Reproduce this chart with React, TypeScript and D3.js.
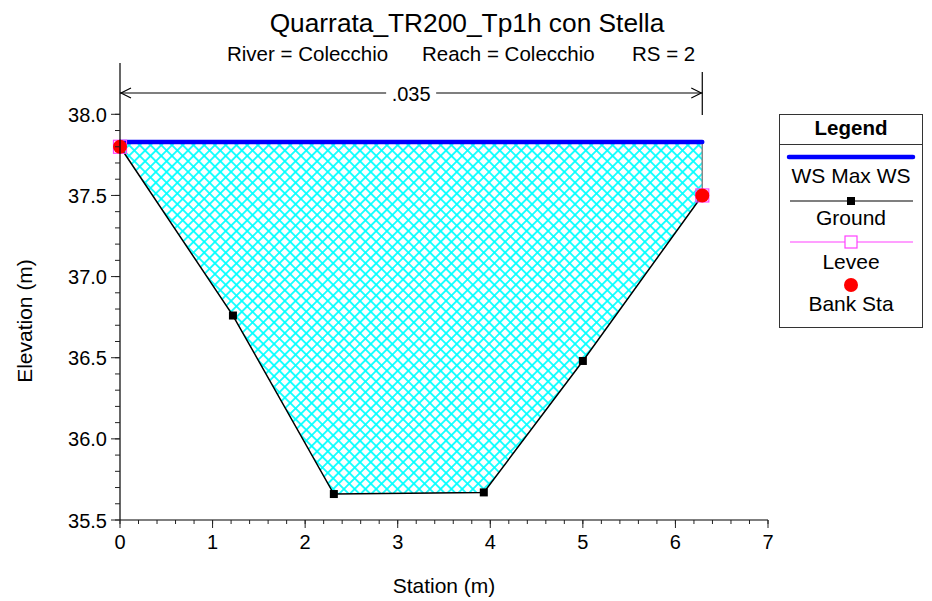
import { useEffect } from "react";
import * as d3 from "d3";

// cross section data
const stations = [0, 1.22, 2.31, 3.93, 5.0, 6.29];
const elevations = [37.8, 36.76, 35.66, 35.67, 36.48, 37.5];
const wsElevation = 37.83;
const bankStations = [0, 6.29];
const bankElevations = [37.8, 37.5];
const manningLabels = [".035"];
const manningStart = [0];
const manningEnd = [6.29];
const xTicks = [0, 1, 2, 3, 4, 5, 6, 7];
const yTicks = [35.5, 36.0, 36.5, 37.0, 37.5, 38.0];

const W = 932;
const H = 601;
const FONT = "Liberation Sans, Arial, Helvetica, sans-serif";

export default function App() {
  useEffect(() => {
    document.body.style.margin = "0";
  }, []);

  const x = d3.scaleLinear().domain([0, 7]).range([120, 768]);
  const y = d3.scaleLinear().domain([35.5, 38.0]).range([520, 114.3]);

  const ground = stations.map((s, i) => [s, elevations[i]] as [number, number]);
  const lastSta = stations[stations.length - 1];

  // area between water surface and ground
  const poly: [number, number][] = [
    [stations[0], wsElevation],
    [lastSta, wsElevation],
    ...ground.slice().reverse(),
  ];
  const polyPath = d3.line<[number, number]>()
    .x((d) => x(d[0]))
    .y((d) => y(d[1]))(poly) + "Z";
  const groundPath = d3.line<[number, number]>()
    .x((d) => x(d[0]))
    .y((d) => y(d[1]))(ground);

  const xMinor = d3.range(0, 7.001, 0.2);
  const yMinor = d3.range(35.5, 38.001, 0.1);

  const dimY = 93;
  const hp = 7.6; // hatch period

  return (
    <svg width={W} height={H} style={{ position: "absolute", left: 0, top: 0, background: "#fff" }} fontFamily={FONT}>
      <defs>
        <pattern id="hatch" width={hp} height={hp} patternUnits="userSpaceOnUse" patternTransform="rotate(45)">
          <rect width={hp} height={hp} fill="#fff" />
          <line x1={0} y1={hp / 2} x2={hp} y2={hp / 2} stroke="#00ffff" strokeWidth={1.7} />
          <line x1={hp / 2} y1={0} x2={hp / 2} y2={hp} stroke="#00ffff" strokeWidth={1.7} />
        </pattern>
      </defs>

      {/* titles */}
      <text x={467} y={32} fontSize={26.3} textAnchor="middle">Quarrata_TR200_Tp1h con Stella</text>
      <text x={227} y={61} fontSize={20.5}>River = Colecchio</text>
      <text x={422} y={61} fontSize={20.5}>Reach = Colecchio</text>
      <text x={632} y={61} fontSize={20.5}>RS = 2</text>

      {/* fill */}
      <path d={polyPath} fill="url(#hatch)" stroke="none" />
      <line x1={x(lastSta)} x2={x(lastSta)} y1={y(wsElevation)} y2={y(bankElevations[1])} stroke="#888" strokeWidth={1.5} />

      {/* ground */}
      <path d={groundPath!} fill="none" stroke="#000" strokeWidth={1.5} />
      {ground.map((d, i) => (
        <rect key={i} x={x(d[0]) - 4} y={y(d[1]) - 4} width={8} height={8} fill="#000" />
      ))}

      {/* water surface */}
      <line x1={x(stations[0])} x2={x(lastSta)} y1={y(wsElevation)} y2={y(wsElevation)} stroke="#0000ff" strokeWidth={4.5} strokeLinecap="round" />

      {/* levees + bank stations */}
      {bankStations.map((s, i) => (
        <g key={i}>
          <rect x={x(s) - 6.5} y={y(bankElevations[i]) - 6.5} width={13} height={13} fill="none" stroke="#ff40ff" strokeWidth={1.2} />
          <circle cx={x(s)} cy={y(bankElevations[i])} r={7} fill="#ff0000" />
        </g>
      ))}

      {/* manning n annotation */}
      {manningLabels.map((lab, i) => {
        const x0 = x(manningStart[i]);
        const x1 = x(manningEnd[i]);
        const cx = (x0 + x1) / 2;
        return (
          <g key={i} stroke="#000" strokeWidth={1.2} fill="none">
            <line x1={x1} x2={x1} y1={72} y2={115} />
            <line x1={x0} x2={cx - 25} y1={dimY} y2={dimY} />
            <line x1={cx + 25} x2={x1} y1={dimY} y2={dimY} />
            <polyline points={`${x0 + 11},${dimY - 5} ${x0 + 1},${dimY} ${x0 + 11},${dimY + 5}`} />
            <polyline points={`${x1 - 11},${dimY - 5} ${x1 - 1},${dimY} ${x1 - 11},${dimY + 5}`} />
            <text x={cx} y={dimY + 8} fontSize={20} textAnchor="middle" fill="#000" stroke="none">{lab}</text>
          </g>
        );
      })}

      {/* axes */}
      <line x1={120} x2={120} y1={63} y2={520} stroke="#000" strokeWidth={1.2} />
      <line x1={120} x2={768} y1={520} y2={520} stroke="#000" strokeWidth={1.2} />
      {xMinor.map((v, i) => (
        <line key={i} x1={x(v)} x2={x(v)} y1={520} y2={524} stroke="#222" />
      ))}
      {xTicks.map((v) => (
        <g key={v}>
          <line x1={x(v)} x2={x(v)} y1={520} y2={528} stroke="#222" />
          <text x={x(v)} y={549} fontSize={20} textAnchor="middle">{v}</text>
        </g>
      ))}
      {yMinor.map((v, i) => (
        <line key={i} x1={115} x2={120} y1={y(v)} y2={y(v)} stroke="#222" />
      ))}
      {yTicks.map((v) => (
        <g key={v}>
          <line x1={111} x2={120} y1={y(v)} y2={y(v)} stroke="#222" />
          <text x={107} y={y(v) + 7.5} fontSize={20} textAnchor="end">{v.toFixed(1)}</text>
        </g>
      ))}
      <text x={444} y={593} fontSize={21} textAnchor="middle">Station (m)</text>
      <text transform="translate(32,321) rotate(-90)" fontSize={21} textAnchor="middle">Elevation (m)</text>

      {/* legend */}
      <g>
        <rect x={779.5} y={114.5} width={143} height={213} fill="#fff" stroke="#333" strokeWidth={1} />
        <line x1={779.5} x2={922.5} y1={144.5} y2={144.5} stroke="#333" />
        <text x={851} y={135} fontSize={20.5} fontWeight="bold" textAnchor="middle">Legend</text>
        <line x1={789} x2={913} y1={157} y2={157} stroke="#0000ff" strokeWidth={4.5} strokeLinecap="round" />
        <text x={851} y={183} fontSize={21} textAnchor="middle">WS Max WS</text>
        <line x1={790} x2={913} y1={201} y2={201} stroke="#000" strokeWidth={1.2} />
        <rect x={847} y={197} width={8} height={8} fill="#000" />
        <text x={851} y={225} fontSize={21} textAnchor="middle">Ground</text>
        <line x1={790} x2={913} y1={242} y2={242} stroke="#ff40ff" strokeWidth={1.2} />
        <rect x={845} y={236} width={12} height={12} fill="#fff" stroke="#ff40ff" strokeWidth={1.2} />
        <text x={851} y={269} fontSize={21} textAnchor="middle">Levee</text>
        <circle cx={851} cy={285} r={7} fill="#ff0000" />
        <text x={851} y={311} fontSize={21} textAnchor="middle">Bank Sta</text>
      </g>
    </svg>
  );
}
